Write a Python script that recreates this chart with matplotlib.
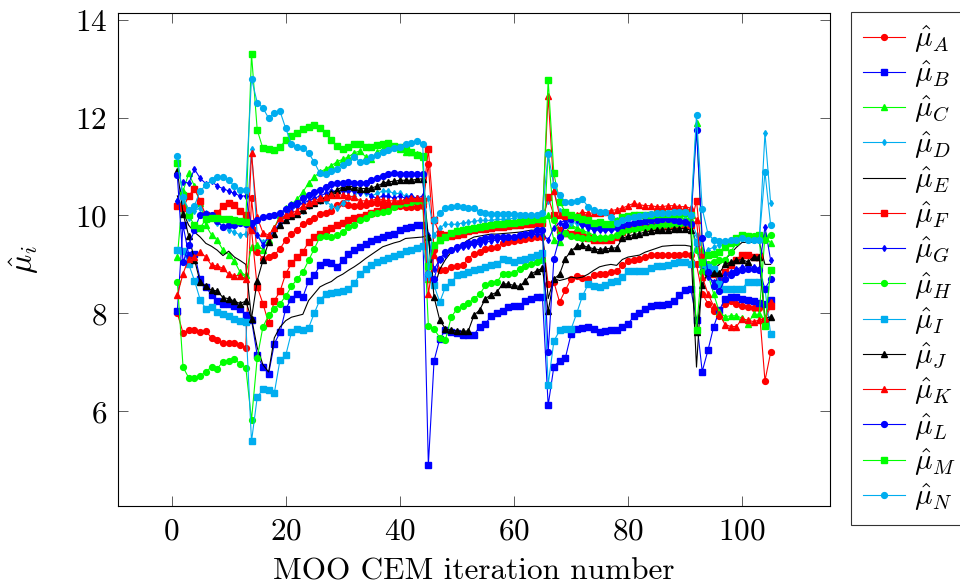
import matplotlib
matplotlib.use("Agg")
import matplotlib.pyplot as plt
import numpy as np

plt.rcParams["font.family"] = "serif"
plt.rcParams["font.serif"] = ["cmr10"]
plt.rcParams["mathtext.fontset"] = "cm"
plt.rcParams["axes.formatter.use_mathtext"] = True

iterations = np.arange(1, 106)

# per-series estimates, one row per block between the restarts
mu_a = [8.0, 7.6, 7.65, 7.65, 7.62, 7.63, 7.5, 7.45, 7.4, 7.4, 7.4, 7.35, 7.3,
        10.35,
        9.25, 9.12, 9.15, 9.19, 9.32, 9.5, 9.63, 9.71, 9.82, 9.88, 9.94, 10.04, 10.05, 10.1, 10.21,
        10.25, 10.22, 10.2, 10.2, 10.22, 10.25, 10.25, 10.22, 10.2, 10.2, 10.2, 10.18, 10.18, 10.18, 10.2,
        11.05,
        9.3, 8.88, 8.88, 8.95, 8.96, 8.98, 9.12, 9.22, 9.26, 9.32, 9.34, 9.36, 9.43, 9.45, 9.48, 9.5,
        9.52, 9.54, 9.55, 9.56,
        8.6,
        8.64, 8.23, 8.47, 8.7, 8.76, 8.73, 8.7, 8.78, 8.8, 8.8, 8.85, 8.86, 8.98, 9.07, 9.1, 9.12, 9.15,
        9.19, 9.2, 9.2, 9.2, 9.2, 9.2, 9.22, 9.2,
        9.0,
        8.4, 8.2, 8.05, 7.95, 8.2, 8.25, 8.2, 8.15, 8.13, 8.1, 8.1,
        6.62, 7.2]

mu_b = [8.05, 9.8, 9.2, 9.22, 8.7, 8.54, 8.37, 8.25, 8.2, 8.18, 8.15, 8.09, 7.96,
        7.87,
        7.14, 6.91, 6.76, 7.38, 7.61, 8.09, 8.3, 8.4, 8.33, 8.66, 8.78, 8.98, 9.05, 9.03, 8.95, 9.08,
        9.22, 9.29, 9.36, 9.42, 9.47, 9.51, 9.56, 9.6, 9.63, 9.7, 9.75, 9.77, 9.8, 9.8,
        4.9,
        7.03, 7.48, 7.66, 7.62, 7.59, 7.55, 7.55, 7.56, 7.73, 7.79, 7.94, 8.0, 8.04, 8.13, 8.14, 8.14,
        8.26, 8.29, 8.33, 8.33,
        6.12,
        6.91, 7.03, 7.08, 7.57, 7.68, 7.7, 7.73, 7.68, 7.61, 7.64, 7.65, 7.66, 7.73, 7.78, 7.94, 8.0,
        8.09, 8.14, 8.16, 8.16, 8.18, 8.26, 8.37, 8.47, 8.5,
        7.87,
        6.81, 7.24, 7.72, 8.06, 8.3, 8.33, 8.33, 8.3, 8.28, 8.25, 8.22,
        8.2, 8.27]

mu_c = [9.15, 10.5, 10.86, 10.6, 10.25, 9.8, 9.6, 9.5, 9.29, 9.2, 9.07, 8.84, 8.78,
        9.35,
        9.4, 9.3, 9.5, 9.75, 10.0, 10.15, 10.23, 10.33, 10.48, 10.66, 10.79, 10.89, 10.95, 11.02, 11.1,
        11.15, 11.2, 11.28, 11.32, 11.2, 11.15, 11.3, 11.35, 11.4, 11.4, 11.35, 11.3, 11.3, 11.25, 11.2,
        8.7,
        9.4, 9.5, 9.6, 9.65, 9.7, 9.7, 9.72, 9.74, 9.75, 9.76, 9.78, 9.78, 9.8, 9.8, 9.8, 9.82,
        9.84, 9.85, 9.86, 9.88,
        10.0,
        9.5, 9.46, 9.65, 9.8, 9.75, 9.7, 9.65, 9.6, 9.55, 9.55, 9.55, 9.6, 9.7, 9.78, 9.8, 9.82,
        9.85, 9.86, 9.88, 9.9, 9.9, 9.9, 9.92, 9.95, 9.9,
        11.9,
        9.3, 8.8, 8.4, 8.03, 7.93, 7.95, 7.95, 7.9, 7.79, 7.98, 7.98,
        9.6, 9.43]

mu_d = [10.3, 10.25, 9.95, 10.1, 10.15, 10.05, 9.95, 9.85, 9.78, 9.71, 9.66, 9.6, 9.62,
        11.35,
        9.6, 9.45, 9.55, 9.7, 9.8, 9.9, 10.0, 10.05, 10.1, 10.2, 10.25, 10.3, 10.3, 10.2, 10.15,
        10.25, 10.35, 10.4, 10.5, 10.45, 10.4, 10.45, 10.5, 10.5, 10.45, 10.45, 10.4, 10.4, 10.35, 10.3,
        10.35,
        9.6, 9.75, 9.82, 9.82, 9.82, 9.85, 9.86, 9.88, 9.9, 9.9, 9.9, 9.92, 9.92, 9.92, 9.95, 9.95,
        9.95, 9.96, 9.98, 9.98,
        10.3,
        10.5, 10.1, 9.9, 9.85, 9.85, 9.8, 9.8, 9.82, 9.82, 9.8, 9.85, 9.9, 9.95, 9.95, 9.97, 9.98,
        10.0, 10.0, 10.0, 10.0, 10.0, 10.0, 10.0, 10.0, 9.95,
        9.6,
        9.1, 9.3, 9.35, 9.4, 9.45, 9.5, 9.5, 9.55, 9.5, 9.5, 9.5,
        11.68, 10.25]

mu_e = [10.4, 10.07, 9.8, 9.66, 9.56, 9.43, 9.37, 9.29, 9.18, 9.27, 9.15, 9.08, 9.0,
        7.9,
        7.3, 6.95, 6.8, 7.5, 7.72, 7.85, 7.92, 7.95, 7.98, 8.26, 8.4, 8.54, 8.6, 8.65, 8.74,
        8.8, 8.88, 8.95, 9.03, 9.12, 9.2, 9.28, 9.36, 9.4, 9.44, 9.47, 9.53, 9.54, 9.55, 9.56,
        9.6,
        8.5, 8.9, 9.1, 9.25, 9.35, 9.42, 9.5, 9.56, 9.58, 9.6, 9.62, 9.62, 9.63, 9.64, 9.65, 9.66,
        9.68, 9.7, 9.7, 9.7,
        8.3,
        8.71, 8.67, 8.7, 8.74, 8.72, 8.74, 8.8, 8.88, 8.95, 8.98, 9.0, 8.98, 9.1, 9.15, 9.17, 9.19,
        9.25, 9.29, 9.33, 9.37, 9.38, 9.39, 9.39, 9.39, 9.37,
        6.9,
        8.8, 8.85, 8.9, 9.0, 9.1, 9.22, 9.35, 9.45, 9.45, 9.45, 9.45,
        9.0, 9.0]

mu_f = [10.2, 10.15, 10.4, 10.55, 10.3, 10.0, 9.98, 10.05, 10.2, 10.25, 10.22, 10.1, 10.0,
        9.7,
        8.54, 8.2, 7.8, 8.26, 8.45, 8.81, 9.02, 9.15, 9.25, 9.46, 9.56, 9.63, 9.71, 9.75, 9.8,
        9.85, 9.9, 9.94, 9.97, 10.0, 10.05, 10.1, 10.13, 10.17, 10.2, 10.24, 10.27, 10.3, 10.3, 10.3,
        11.35,
        9.9, 9.62, 9.6, 9.58, 9.6, 9.62, 9.68, 9.7, 9.72, 9.73, 9.75, 9.76, 9.77, 9.78, 9.8, 9.8,
        9.82, 9.83, 9.84, 9.85,
        10.38,
        10.0, 9.7, 9.65, 9.63, 9.6, 9.55, 9.53, 9.5, 9.5, 9.5, 9.5, 9.57, 9.66, 9.73, 9.76, 9.77,
        9.77, 9.77, 9.78, 9.78, 9.78, 9.78, 9.8, 9.8, 9.8,
        10.3,
        9.15, 8.9, 8.8, 8.75, 8.85, 8.98, 9.1, 9.19, 9.2, 9.15, 9.15,
        7.85, 8.15]

mu_g = [10.3, 10.69, 10.66, 10.95, 10.76, 10.65, 10.7, 10.6, 10.55, 10.5, 10.45, 10.4, 10.4,
        9.8,
        9.6, 9.4, 9.55, 9.7, 9.85, 10.0, 10.1, 10.2, 10.25, 10.3, 10.35, 10.4, 10.45, 10.5, 10.5,
        10.5, 10.5, 10.5, 10.45, 10.5, 10.4, 10.35, 10.4, 10.4, 10.35, 10.4, 10.35, 10.4, 10.35, 10.4,
        9.6,
        8.9, 9.1, 9.2, 9.3, 9.32, 9.35, 9.38, 9.4, 9.42, 9.45, 9.48, 9.5, 9.52, 9.55, 9.55, 9.58,
        9.6, 9.6, 9.62, 9.62,
        9.5,
        9.75, 9.85, 9.9, 9.95, 9.9, 9.8, 9.75, 9.7, 9.7, 9.7, 9.7, 9.72, 9.75, 9.78, 9.8, 9.8,
        9.82, 9.82, 9.82, 9.82, 9.82, 9.82, 9.84, 9.85, 9.85,
        9.4,
        8.9, 8.75, 8.65, 8.7, 8.8, 8.85, 8.9, 8.95, 8.95, 8.95, 8.9,
        9.77, 9.08]

mu_h = [8.65, 6.9, 6.68, 6.68, 6.72, 6.81, 6.9, 6.87, 7.01, 7.03, 7.06, 6.97, 6.89,
        5.82,
        7.09, 7.72, 7.96, 8.09, 8.2, 8.35, 8.55, 8.7, 8.84, 9.08, 9.32, 9.56, 9.58, 9.55, 9.6,
        9.66, 9.76, 9.81, 9.9, 9.95, 10.03, 10.06, 10.08, 10.1, 10.17, 10.24, 10.25, 10.27, 10.3, 10.3,
        7.74,
        7.68, 7.5, 7.46, 7.92, 8.09, 8.14, 8.21, 8.3, 8.39, 8.57, 8.62, 8.64, 8.8, 8.81, 8.83, 8.91,
        8.96, 9.0, 9.05, 9.1,
        11.3,
        9.9, 9.6, 9.65, 9.58, 9.56, 9.53, 9.53, 9.53, 9.53, 9.53, 9.55, 9.6, 9.66, 9.7, 9.72, 9.74,
        9.75, 9.76, 9.78, 9.8, 9.8, 9.82, 9.82, 9.84, 9.85,
        9.3,
        8.85, 9.0, 9.05, 9.08, 9.1, 9.25, 9.45, 9.55, 9.58, 9.58, 9.55,
        9.5, 9.6]

mu_i = [9.3, 9.28, 9.0, 8.67, 8.28, 8.09, 8.13, 8.02, 7.98, 7.95, 7.89, 7.84, 7.82,
        5.38,
        6.28, 6.45, 6.43, 6.37, 7.05, 7.14, 7.61, 7.68, 7.66, 7.7, 8.0, 8.28, 8.39, 8.42, 8.44,
        8.46, 8.5, 8.61, 8.8, 8.91, 8.98, 9.05, 9.09, 9.13, 9.17, 9.22, 9.27, 9.3, 9.34, 9.37,
        8.75,
        8.57, 8.23, 8.54, 8.63, 8.78, 8.8, 8.85, 8.88, 8.91, 8.95, 8.98, 9.0, 9.12, 9.1, 9.05, 9.08,
        9.12, 9.15, 9.2, 9.24,
        6.54,
        7.43, 7.65, 7.67, 7.67, 8.0, 8.35, 8.59, 8.55, 8.54, 8.57, 8.64, 8.66, 8.74, 8.86, 8.87, 8.86,
        8.87, 8.93, 8.96, 8.97, 8.99, 9.02, 9.04, 9.04, 9.0,
        9.45,
        9.0, 8.95, 8.9, 8.6, 8.5, 8.5, 8.5, 8.5, 8.65, 8.65, 8.65,
        8.5, 7.57]

mu_j = [10.91, 10.04, 9.58, 9.1, 8.64, 8.55, 8.47, 8.46, 8.32, 8.3, 8.25, 8.2, 8.25,
        7.89,
        8.67, 9.08, 9.46, 9.63, 9.8, 9.9, 9.98, 10.04, 10.12, 10.21, 10.26, 10.31, 10.37, 10.45, 10.52,
        10.59, 10.6, 10.59, 10.55, 10.55, 10.56, 10.6, 10.66, 10.69, 10.7, 10.72, 10.72, 10.72, 10.74, 10.75,
        9.55,
        8.33, 7.86, 7.68, 7.65, 7.64, 7.63, 7.64, 7.96, 8.07, 8.3, 8.38, 8.43, 8.6, 8.6, 8.57, 8.55,
        8.66, 8.8, 8.87, 8.92,
        8.04,
        8.7, 8.8, 9.12, 9.27, 9.37, 9.39, 9.35, 9.32, 9.3, 9.32, 9.33, 9.34, 9.53, 9.58, 9.61, 9.63,
        9.66, 9.68, 9.7, 9.7, 9.71, 9.72, 9.73, 9.73, 9.7,
        7.61,
        8.57, 8.84, 8.82, 8.82, 9.0, 9.05, 9.08, 9.1, 9.05, 9.15, 9.15,
        7.9, 7.93]

mu_k = [8.37, 8.81, 9.12, 9.15, 9.25, 9.15, 8.98, 8.97, 8.92, 8.8, 8.77, 8.77, 8.7,
        11.27,
        9.96, 9.65, 9.6, 9.75, 9.95, 10.0, 10.05, 10.1, 10.2, 10.25, 10.3, 10.35, 10.38, 10.42, 10.42,
        10.42, 10.4, 10.38, 10.3, 10.3, 10.3, 10.35, 10.32, 10.3, 10.3, 10.3, 10.32, 10.35, 10.35, 10.35,
        8.39,
        9.2, 9.55, 9.6, 9.62, 9.65, 9.68, 9.7, 9.72, 9.74, 9.76, 9.78, 9.8, 9.8, 9.82, 9.84, 9.86,
        9.88, 9.9, 9.92, 9.95,
        12.45,
        10.5, 10.0, 9.98, 10.0, 10.02, 10.07, 10.05, 10.05, 10.05, 10.08, 10.1, 10.12, 10.15, 10.2, 10.25,
        10.22, 10.2, 10.2, 10.18, 10.18, 10.2, 10.2, 10.18, 10.18, 10.15,
        9.9,
        8.75, 8.4, 8.15, 7.99, 7.77, 7.73, 7.73, 7.89, 7.86, 7.83, 7.86,
        7.9, 8.23]

mu_l = [10.82, 9.04, 9.39, 9.7, 10.02, 10.04, 10.0, 9.88, 9.77, 9.8, 9.8, 9.85, 9.83,
        9.85,
        9.9, 9.97, 9.98, 10.0, 10.06, 10.13, 10.21, 10.26, 10.35, 10.42, 10.47, 10.52, 10.59, 10.65, 10.66,
        10.66, 10.68, 10.66, 10.66, 10.66, 10.72, 10.77, 10.8, 10.84, 10.86, 10.85, 10.85, 10.84, 10.84, 10.85,
        8.8,
        8.7, 9.12, 9.25, 9.3, 9.36, 9.4, 9.44, 9.46, 9.5, 9.53, 9.56, 9.56, 9.56, 9.55, 9.57, 9.6,
        9.62, 9.65, 9.7, 9.7,
        7.2,
        9.12, 9.55, 9.8, 9.93, 9.97, 9.85, 9.8, 9.77, 9.74, 9.74, 9.74, 9.76, 9.8, 9.83, 9.85, 9.87,
        9.89, 9.9, 9.91, 9.92, 9.92, 9.9, 9.88, 9.86, 9.83,
        11.75,
        9.54, 8.85, 8.55, 8.45, 8.7, 8.78, 8.85, 8.88, 8.9, 8.9, 8.88,
        8.5, 8.7]

mu_m = [11.07, 10.42, 10.0, 9.8, 9.75, 9.92, 9.95, 9.95, 9.93, 9.92, 9.9, 9.88, 9.87,
        13.3,
        11.75, 11.37, 11.35, 11.34, 11.4, 11.54, 11.62, 11.69, 11.76, 11.8, 11.85, 11.78, 11.68, 11.54, 11.42,
        11.35, 11.4, 11.46, 11.46, 11.4, 11.39, 11.44, 11.46, 11.48, 11.42, 11.4, 11.35, 11.3, 11.24, 11.22,
        8.96,
        9.4, 9.5, 9.55, 9.65, 9.68, 9.7, 9.72, 9.74, 9.76, 9.78, 9.8, 9.82, 9.82, 9.84, 9.85, 9.86,
        9.88, 9.9, 9.92, 9.92,
        12.78,
        10.86, 10.28, 10.07, 10.0, 9.97, 9.92, 9.9, 9.85, 9.86, 9.83, 9.83, 9.88, 9.96, 9.99, 10.0, 10.02,
        10.02, 10.02, 10.03, 10.03, 10.03, 10.04, 10.04, 10.05, 10.0,
        7.66,
        9.04, 9.2, 9.22, 9.25, 9.35, 9.43, 9.53, 9.6, 9.58, 9.57, 9.6,
        7.75, 8.88]

mu_n = [11.22, 10.37, 10.12, 10.2, 10.5, 10.62, 10.72, 10.78, 10.79, 10.72, 10.6, 10.53, 10.53,
        12.8,
        12.31, 12.2, 11.99, 12.09, 12.13, 11.78, 11.46, 11.4, 11.38, 11.28, 11.09, 10.86, 10.85, 10.9, 10.96,
        11.03, 11.09, 11.2, 11.1, 11.12, 11.2, 11.23, 11.3, 11.34, 11.37, 11.4, 11.46, 11.48, 11.52, 11.46,
        8.8,
        9.9, 10.05, 10.15, 10.17, 10.19, 10.18, 10.15, 10.15, 10.08, 10.05, 10.04, 10.04, 10.04, 10.03, 10.03,
        10.02, 10.0, 10.0, 10.02, 10.05,
        11.25,
        10.62, 10.42, 10.28, 10.28, 10.3, 10.33, 10.18, 10.12, 10.07, 10.07, 9.97, 9.84, 9.9, 9.94, 9.97,
        9.98, 10.02, 10.03, 10.05, 10.06, 10.06, 10.07, 10.07, 10.07, 10.0,
        12.05,
        10.14, 9.63, 9.5, 9.47, 9.47, 9.5, 9.5, 9.53, 9.5, 9.5, 9.5,
        10.89, 9.8]

RED = "#ff0000"
BLUE = "#0000ff"
GREEN = "#00ff00"
CYAN = "#00adef"

# (values, colour, marker, marker size, legend letter)
series = [
    (mu_a, RED, "o", 4.2, "A"),
    (mu_b, BLUE, "s", 4.2, "B"),
    (mu_c, GREEN, "^", 4.2, "C"),
    (mu_d, CYAN, "d", 3.0, "D"),
    (mu_e, "black", None, 0, "E"),
    (mu_f, RED, "s", 4.2, "F"),
    (mu_g, BLUE, "d", 3.0, "G"),
    (mu_h, GREEN, "o", 4.2, "H"),
    (mu_i, CYAN, "s", 4.2, "I"),
    (mu_j, "black", "^", 4.2, "J"),
    (mu_k, RED, "^", 4.2, "K"),
    (mu_l, BLUE, "o", 4.2, "L"),
    (mu_m, GREEN, "s", 4.2, "M"),
    (mu_n, CYAN, "o", 4.2, "N"),
]

fig = plt.figure(figsize=(9.6, 5.87), dpi=100)
ax = fig.add_axes([118 / 960, 1 - 506 / 587, (830 - 118) / 960, (506 - 13) / 587])

for values, colour, marker, size, letter in series:
    ax.plot(
        iterations,
        values,
        color=colour,
        marker=marker,
        markersize=size,
        linewidth=0.8,
        label=r"$\hat{\mu}_{%s}$" % letter,
    )

ax.set_xlim(-9.4, 115.4)
ax.set_ylim(4.06, 14.14)
ax.set_xticks([0, 20, 40, 60, 80, 100])
ax.set_yticks([6, 8, 10, 12, 14])
ax.tick_params(
    direction="in",
    top=True,
    right=True,
    length=7,
    width=0.6,
    color="#444444",
    labelsize=22.5,
    pad=8,
)
for spine in ax.spines.values():
    spine.set_linewidth(0.8)

ax.set_xlabel("MOO CEM iteration number", fontsize=22.5, labelpad=9)
ax.set_ylabel(r"$\hat{\mu}_i$", fontsize=23, labelpad=24)

legend = fig.legend(
    loc="upper left",
    bbox_to_anchor=(851 / 960, 1 - 12 / 587),
    fontsize=21,
    frameon=True,
    fancybox=False,
    edgecolor="black",
    handlelength=1.45,
    handletextpad=0.3,
    labelspacing=0.14,
    borderpad=0.4,
    borderaxespad=0,
)
legend.get_frame().set_linewidth(0.8)

fig.savefig("out.png", dpi=100)
